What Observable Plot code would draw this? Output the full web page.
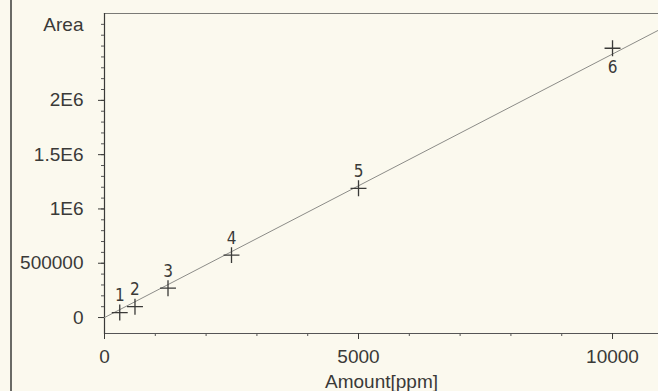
<!DOCTYPE html>
<html>
<head>
<meta charset="utf-8">
<script src="https://cdn.jsdelivr.net/npm/d3@7"></script>
<script src="https://cdn.jsdelivr.net/npm/@observablehq/plot@0.6"></script>
<style>
  html, body { margin: 0; padding: 0; background: #fbf9ee; }
  #wrap { position: relative; width: 658px; height: 391px; overflow: hidden; }
  #edge { position: absolute; left: 10px; top: 0; width: 1.5px; height: 391px; background: #6a6a66; }
</style>
</head>
<body>
<div id="wrap"><div id="edge"></div></div>
<script>
// Calibration points (peak numbers, amount in ppm, area)
const peakIds = ["1", "2", "3", "4", "5", "6"];
const amounts = [300, 600, 1250, 2500, 5000, 10000];
const areas = [46000, 100000, 270000, 575000, 1190000, 2480000];
const labelSide = ["above", "above", "above", "above", "above", "below"];

// Regression line endpoints
const fitAmount = [0, 10900];
const fitArea = [0, 2645000];

// Axes
const xTicks = [0, 5000, 10000];
const xTickLabels = ["0", "5000", "10000"];
const xMinor = d3.range(0, 11000, 1000);
const yTicks = [0, 500000, 1000000, 1500000, 2000000];
const yTickLabels = ["0", "500000", "1E6", "1.5E6", "2E6"];
const yMinor = d3.range(0, 2800000, 100000);

const points = peakIds.map((id, i) => ({id, amount: amounts[i], area: areas[i], side: labelSide[i]}));
const fit = fitAmount.map((a, i) => ({amount: a, area: fitArea[i]}));

const ink = "#3a3a38";
const font = "Liberation Sans, Arial, sans-serif";
const blank = () => "";

const chart = Plot.plot({
  width: 658,
  height: 391,
  marginLeft: 104,
  marginRight: 0,
  marginTop: 13,
  marginBottom: 58,
  style: {background: "transparent", color: ink, fontFamily: font},
  x: {domain: [0, 10905]},
  y: {domain: [-147000, 2800000]},
  marks: [
    Plot.frame({anchor: "top", stroke: "#7a7a76", strokeWidth: 1.2}),
    Plot.frame({anchor: "left", stroke: ink, strokeWidth: 1.2}),
    Plot.frame({anchor: "bottom", stroke: "#555", strokeWidth: 1}),
    Plot.axisY({ticks: yMinor, tickSize: 3, tickFormat: blank, label: null, stroke: "#555"}),
    Plot.axisY({ticks: yTicks, tickSize: 6, tickPadding: 15, tickFormat: (d) => yTickLabels[yTicks.indexOf(d)],
      label: null, fontSize: 19, stroke: ink}),
    Plot.axisX({ticks: xMinor, tickSize: 3, tickFormat: blank, label: null, stroke: "#555"}),
    Plot.axisX({ticks: xTicks, tickSize: 6, tickPadding: 10, tickFormat: (d) => xTickLabels[xTicks.indexOf(d)],
      fontSize: 19, label: "Amount[ppm]", labelAnchor: "center", labelArrow: "none", labelOffset: 54, stroke: ink}),
    Plot.text(["Area"], {frameAnchor: "top-left", dx: -21, dy: 4, textAnchor: "end", fontSize: 19, fill: ink}),
    Plot.line(fit, {x: "amount", y: "area", stroke: "#8c8c88", strokeWidth: 1}),
    Plot.dot(points, {x: "amount", y: "area", symbol: "plus", r: 5.2, stroke: ink, strokeWidth: 1.3}),
    Plot.text(points.filter(d => d.side === "above"), {x: "amount", y: "area", text: "id", dy: -17,
      fontSize: 17, fill: ink, fontFamily: "Liberation Sans Narrow, DejaVu Sans Condensed, sans-serif"}),
    Plot.text(points.filter(d => d.side === "below"), {x: "amount", y: "area", text: "id", dy: 19,
      fontSize: 17, fill: ink, fontFamily: "Liberation Sans Narrow, DejaVu Sans Condensed, sans-serif"})
  ]
});
chart.style.position = "absolute";
chart.style.left = "0";
chart.style.top = "0";
document.getElementById("wrap").appendChild(chart);
</script>
</body>
</html>
